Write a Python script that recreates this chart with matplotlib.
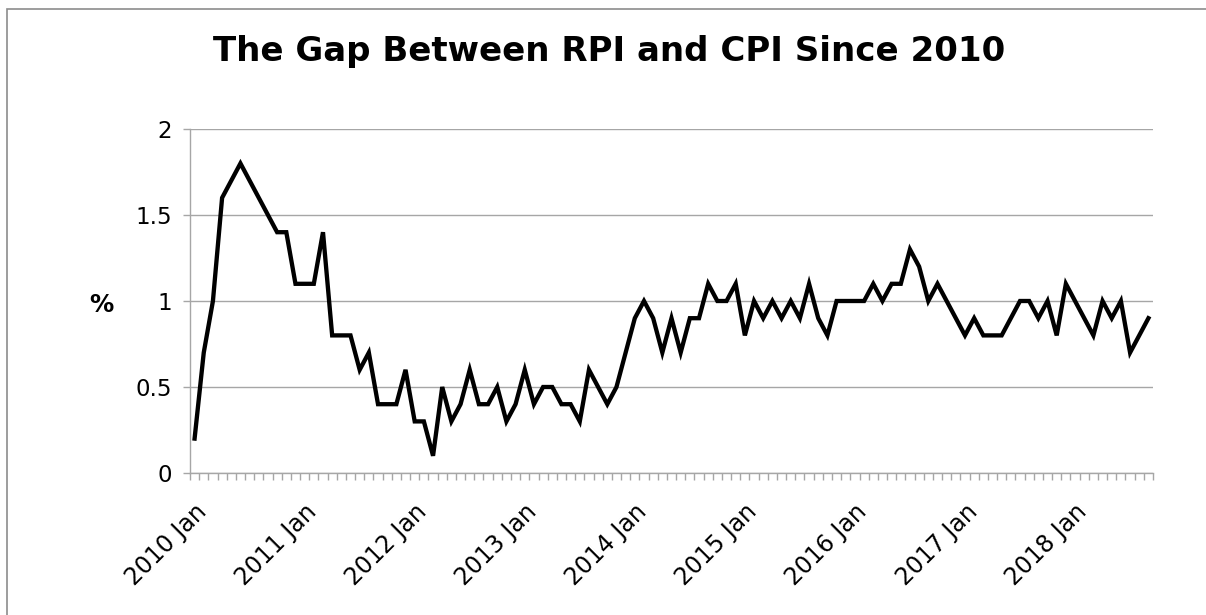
import matplotlib
matplotlib.use('Agg')
import matplotlib.pyplot as plt
from matplotlib.patches import Rectangle
import numpy as np

# RPI minus CPI gap (percentage points), monthly from 2010 Jan
gap_2010 = [0.2, 0.7, 1.0, 1.6, 1.7, 1.8, 1.7, 1.6, 1.5, 1.4, 1.4, 1.1]
gap_2011 = [1.1, 1.1, 1.4, 0.8, 0.8, 0.8, 0.6, 0.7, 0.4, 0.4, 0.4, 0.6]
gap_2012 = [0.3, 0.3, 0.1, 0.5, 0.3, 0.4, 0.6, 0.4, 0.4, 0.5, 0.3, 0.4]
gap_2013 = [0.6, 0.4, 0.5, 0.5, 0.4, 0.4, 0.3, 0.6, 0.5, 0.4, 0.5, 0.7]
gap_2014 = [0.9, 1.0, 0.9, 0.7, 0.9, 0.7, 0.9, 0.9, 1.1, 1.0, 1.0, 1.1]
gap_2015 = [0.8, 1.0, 0.9, 1.0, 0.9, 1.0, 0.9, 1.1, 0.9, 0.8, 1.0, 1.0]
gap_2016 = [1.0, 1.0, 1.1, 1.0, 1.1, 1.1, 1.3, 1.2, 1.0, 1.1, 1.0, 0.9]
gap_2017 = [0.8, 0.9, 0.8, 0.8, 0.8, 0.9, 1.0, 1.0, 0.9, 1.0, 0.8, 1.1]
gap_2018 = [1.0, 0.9, 0.8, 1.0, 0.9, 1.0, 0.7, 0.8, 0.9]

gap = (gap_2010 + gap_2011 + gap_2012 + gap_2013 + gap_2014 +
       gap_2015 + gap_2016 + gap_2017 + gap_2018)

years = list(range(2010, 2019))
meses = ['Jan', 'Feb', 'Mar', 'Apr', 'May', 'Jun',
         'Jul', 'Aug', 'Sep', 'Oct', 'Nov', 'Dec']
categorias = [f'{y} {m}' for y in years for m in meses][:len(gap)]

y_ticks = [0, 0.5, 1, 1.5, 2]
y_tick_labels = ['0', '0.5', '1', '1.5', '2']

GRIS = '#a6a6a6'

plt.rcParams['font.family'] = 'DejaVu Sans'

fig = plt.figure(figsize=(12.06, 6.15), dpi=100)
ax = fig.add_axes([190/1206, 1 - 473/615, (1153 - 190)/1206, (473 - 129)/615])

x = np.arange(len(gap))
ax.plot(x, gap, color='black', lw=3.1, solid_joinstyle='miter')

ax.set_xlim(-0.5, len(gap) - 0.5)
ax.set_ylim(0, 2)

# Grid horizontal
ax.set_yticks(y_ticks)
ax.set_yticklabels(y_tick_labels, fontsize=16.5)
ax.yaxis.grid(True, color=GRIS, lw=1.0)
ax.set_axisbelow(True)

# Etiquetas cada enero, marcas en los limites de cada mes
idx_enero = [i for i, c in enumerate(categorias) if c.endswith('Jan')]
ax.set_xticks(idx_enero)
ax.set_xticklabels([categorias[i] for i in idx_enero], fontsize=17,
                   rotation=45, ha='right', rotation_mode='anchor')
ax.set_xticks(np.arange(-0.5, len(gap)), minor=True)
ax.tick_params(axis='x', which='major', length=0, pad=19)
ax.tick_params(axis='x', which='minor', length=5, width=1, color=GRIS,
               direction='out')
ax.tick_params(axis='y', length=5, width=1, color=GRIS, pad=8)

for lado in ['top', 'right']:
    ax.spines[lado].set_visible(False)
for lado in ['left', 'bottom']:
    ax.spines[lado].set_color(GRIS)
    ax.spines[lado].set_linewidth(1.0)

fig.text(609/1206, 1 - 52/615, 'The Gap Between RPI and CPI Since 2010',
         ha='center', va='center', fontsize=24.5, fontweight='bold')
fig.text(101/1206, 1 - 305/615, '%', ha='center', va='center',
         fontsize=17.5, fontweight='bold')

# Borde del grafico
fig.add_artist(Rectangle((7/1206, -0.1), 1.2, 1 - 9/615 + 0.1,
                         transform=fig.transFigure, fill=False,
                         edgecolor='#8c8c8c', lw=1.2))

fig.savefig('out.png', dpi=100, facecolor='white')
